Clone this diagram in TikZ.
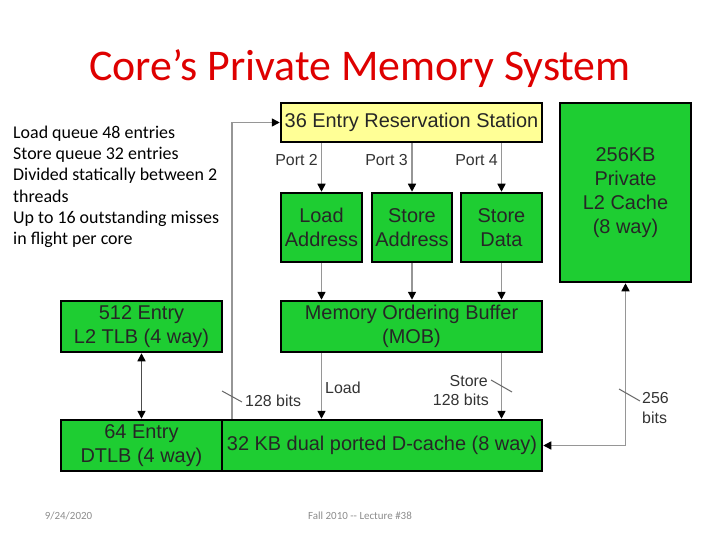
\documentclass[tikz,border=0pt]{standalone}
\usepackage{fontspec}
\setmainfont{Carlito}
\newfontfamily\diagfont{Liberation Sans}
\usetikzlibrary{arrows.meta,positioning}
\definecolor{titlered}{RGB}{222,0,0}
\definecolor{unitgreen}{RGB}{30,205,50}
\definecolor{rsyellow}{RGB}{255,255,150}
\definecolor{wiregray}{RGB}{150,150,150}
\definecolor{footgray}{RGB}{140,140,140}

\begin{document}
\begin{tikzpicture}[x=1bp, y=-1bp,
    >={Triangle[length=8bp,width=8bp,color=black]},
    unit/.style={draw=black, line width=2.5bp, fill=unitgreen, inner sep=0pt,
        align=center, text=black!85,
        font=\diagfont\fontsize{20}{24}\selectfont},
    wire/.style={draw=wiregray, line width=1.5bp, ->},
    lbl/.style={inner sep=0pt, text=black!80,
        font=\diagfont\fontsize{16}{19}\selectfont},
    tickmark/.style={draw=black!60, line width=1bp},
    foot/.style={inner sep=0pt, text=footgray, font=\fontsize{11}{13}\selectfont}]
    \useasboundingbox (0,0) rectangle (720,540);

    % title and notes
    \node[anchor=base, inner sep=0pt, text=titlered, font=\fontsize{44}{50}\selectfont]
        (title) at (360,81) {Core’s Private Memory System};
    \node[anchor=north west, inner sep=0pt, align=left, font=\fontsize{18}{21.2}\selectfont]
        (notes) at (13,126) {Load queue 48 entries\\Store queue 32 entries\\
        Divided statically between 2\\threads\\Up to 16 outstanding misses\\
        in flight per core};

    % reservation station and ports
    \node[unit, fill=rsyellow, minimum width=261bp, minimum height=39bp]
        (rs) at (411.5,122.5) {36 Entry Reservation Station};
    \node[unit, minimum width=81bp, minimum height=69bp] (ldaddr) at (321.5,227.5) {Load\\Address};
    \node[unit, minimum width=80bp, minimum height=69bp] (staddr) at (412,227.5) {Store\\Address};
    \node[unit, minimum width=81bp, minimum height=69bp] (stdata) at (501.5,227.5) {Store\\Data};

    % buffers and caches
    \node[unit, minimum width=261bp, minimum height=51bp] (mob) at (411.5,326.5)
        {Memory Ordering Buffer\\(MOB)};
    \node[unit, minimum width=161bp, minimum height=51bp] (ltlb) at (141.5,326.5)
        {512 Entry\\L2 TLB (4 way)};
    \node[unit, minimum width=161bp, minimum height=51bp] (dtlb) at (141.5,445.5)
        {64 Entry\\DTLB (4 way)};
    \node[unit, minimum width=320bp, minimum height=51bp] (dcache) at (382,445.5)
        {32 KB dual ported D-cache (8 way)};
    \node[unit, minimum width=131bp, minimum height=179bp] (ltwo) at (625.5,192.5)
        {256KB\\Private\\L2 Cache\\(8 way)};

    % issue ports
    \draw[wire] (rs.south -| ldaddr.north) -- (ldaddr.north);
    \draw[wire] (rs.south -| staddr.north) -- (staddr.north);
    \draw[wire] (rs.south -| stdata.north) -- (stdata.north);
    \node[lbl, anchor=base east] (port2) at (318,166) {Port 2};
    \node[lbl, anchor=base east] (port3) at (408,166) {Port 3};
    \node[lbl, anchor=base east] (port4) at (498,166) {Port 4};

    % into the MOB
    \draw[wire] (ldaddr.south) -- (mob.north -| ldaddr.south);
    \draw[wire] (staddr.south) -- (mob.north -| staddr.south);
    \draw[wire] (stdata.south) -- (mob.north -| stdata.south);

    % MOB to D-cache
    \draw[wire] (mob.south -| ldaddr.south) -- (dcache.north -| ldaddr.south);
    \draw[wire] (mob.south -| stdata.south) -- (dcache.north -| stdata.south);
    \node[lbl, anchor=base west] (loadlbl) at (325,393) {Load};
    \node[lbl, anchor=base east] (storelbl) at (488,386) {Store};
    \node[lbl, anchor=base east] (storebits) at (489,405) {128 bits};
    \draw[tickmark] (491,380) -- (512,392);

    % D-cache back to reservation station
    \draw[wire] ([xshift=11bp]dcache.north west) |- (rs.west);
    \draw[tickmark] (222,391) -- (242,402);
    \node[lbl, anchor=base west] (fillbits) at (245,406) {128 bits};

    % TLBs
    \draw[wire, <->, draw=black!70] (ltlb.south) -- (dtlb.north);

    % L2 link
    \draw[wire, <->] (ltwo.south) |- (dcache.east);
    \draw[tickmark] (619,389) -- (640,401);
    \node[lbl, anchor=base west] (ltwobits) at (642,403) {256};
    \node[lbl, anchor=base west] (ltwounit) at (642,423) {bits};

    % footer
    \node[foot, anchor=base] (date) at (68.5,519) {9/24/2020};
    \node[foot, anchor=base] (lecture) at (360,519) {Fall 2010 -{}- Lecture \#38};
\end{tikzpicture}
\end{document}
